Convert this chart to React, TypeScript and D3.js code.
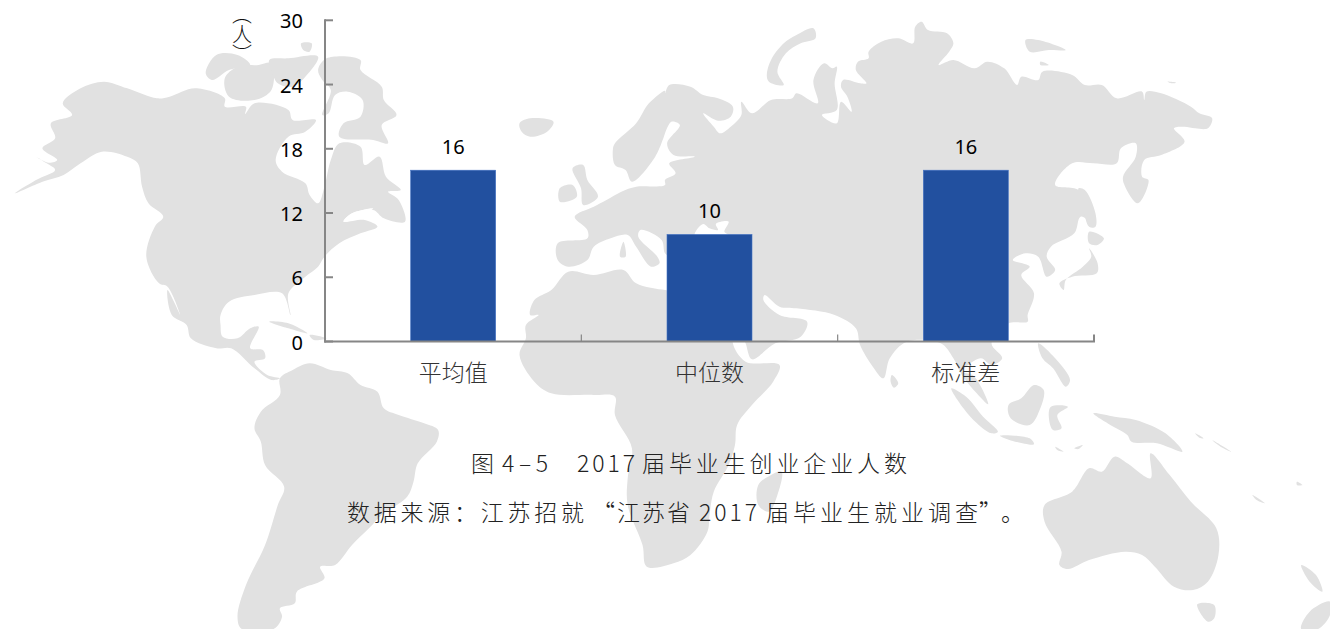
import React from "react";
import * as d3 from "d3";

const categories = ["平均值", "中位数", "标准差"];
const values = [16, 10, 16];
const yTicks = [0, 6, 12, 18, 24, 30];
const yTitle = "（人）";
// [text, first pixel, width] for each run of the two caption lines
const captionRuns: [string, number, number][] = [
  ["图", 471, 23],
  ["4–5", 502, 46],
  ["2017", 577, 58],
  ["届毕业生创业企业人数", 642, 265],
];
const sourceRuns: [string, number, number][] = [
  ["数据来源：江苏招就", 347, 237],
  ["“江苏省", 592, 98],
  ["2017", 699, 58],
  ["届毕业生就业调查", 766, 212],
  ["”", 979, 23],
  ["。", 1001, 23],
];

// Decorative world map outlines, traced in a 3136x1887 tracing space made of four quadrants.
type Seg = [number, number, string];
const NW = (s: string): Seg => [0, 0, s];
const NE = (s: string): Seg => [1568, 0, s];
const SW = (s: string): Seg => [0, 945, s];
const SE = (s: string): Seg => [1568, 945, s];

const northAmerica: Seg[] = [
  NW("35,580 85,540 130,510 110,490 85,470 115,488 135,480 100,445 130,415 120,370 170,345 148,310 190,265 245,245 300,265 370,295 400,290 460,265 530,295 530,320 580,320 578,342 600,310 680,330 690,360 745,360 720,395 680,410 650,480 665,515 720,550 730,585 750,610 765,560 780,480 800,430 850,440 860,495 895,470 910,530 945,570 915,575 940,600 955,665 905,655 880,630 830,640 810,665 860,660 890,680 850,700 800,730 765,770 750,800 720,830 680,880 685,945 665,880 600,885 540,905 520,945"),
  SW("520,30 525,65 560,70 590,40 610,35 590,100 620,105 625,130 600,140 630,180 660,190 640,195 600,160 545,100 510,100 450,70 440,30 405,0"),
  NW("395,870 425,945 395,860 375,850 345,770 365,680 385,650 350,610 335,560 325,490 300,470 240,455 190,490 150,525 100,545"),
];
const southAmerica: Seg[] = [SW("660,190 690,165 730,145 780,165 820,175 850,210 890,230 905,280 940,300 1000,325 1033,345 1030,380 985,445 975,500 960,545 900,600 870,640 830,690 790,750 755,755 765,790 700,830 695,865 660,880 665,905 645,942 570,942 560,905 580,810 625,690 655,570 670,515 625,450 615,380 600,340 615,290 660,240")];
const eurasiaAfrica: Seg[] = [
  NW("1315,780 1315,730 1385,715 1385,690 1355,650 1400,620 1430,600 1465,575 1500,560 1568,555"),
  NE("0,540 25,520 10,490 70,470 20,465 5,430 35,375 15,365 0,400"),
  NW("1568,400 1545,470 1490,545 1475,510 1450,495 1445,450 1450,430 1500,370 1530,310 1568,272"),
  NE("0,280 10,255 60,260 90,285 125,295 160,320 155,350 125,362 90,340 115,380 130,400 155,380 180,345 180,305 205,340 250,300 300,295 310,280 360,310 350,240 375,190 395,205 405,200 400,250 405,330 370,345 405,370 415,305 440,335 430,290 415,260 420,240 460,250 475,250 450,210 455,185 480,175 480,155 510,125 550,115 585,130 590,80 605,65 620,90 665,100 680,130 670,155 645,195 680,180 730,205 760,185 800,205 830,255 840,230 880,240 890,215 960,225 990,255 1030,255 1065,295 1125,275 1130,300 1135,275 1170,280 1240,320 1260,340 1290,355 1280,385 1250,385 1225,380 1200,385 1225,425 1170,465 1130,480 1125,530 1140,540 1115,610 1085,560 1080,530 1110,470 1110,430 1075,445 1065,490 1010,490 960,490 920,555 975,570 1005,640 1010,670 980,650 965,700 910,740 900,770 920,810 900,830 880,770 850,760 820,780 860,800 840,825 870,880 855,945"),
  SE("855,20 810,25 770,85 795,130 770,150 745,130 715,150 700,170 725,180 745,215 762,268 735,235 700,180 680,130 650,85 570,80 530,130 515,190 490,155 460,90 450,40 400,0"),
  NE("310,925 270,920 235,885 232,900 270,945"),
  SE("335,20 320,65 260,85 205,133 190,85 180,60 165,60 160,85 190,140 270,150 255,200 205,270 170,330 165,390 150,450 115,530 105,600 100,650 60,720 20,745"),
  SW("1525,755 1515,690 1480,570 1480,490 1490,400 1450,300 1450,245 1400,240 1300,235 1260,200 1225,120 1240,70 1240,30 1270,0"),
  NW("1250,945 1260,900 1300,870 1340,815 1400,825 1470,810 1500,850 1568,870"),
  NE("20,870 20,780"),
  NW("1568,760 1560,720 1510,690 1505,710 1550,770 1555,790 1535,800 1500,740 1480,705 1440,715 1400,740 1385,780 1340,800"),
];
const islands: Seg[][] = [
  [NW("485,220 510,165 560,165 590,195 540,210 500,240")],
  [NW("530,235 560,200 610,195 640,190 640,270 600,300 540,290")],
  [NW("635,180 680,175 750,170 720,230 690,260 655,250 640,210")],
  [NW("710,130 735,130 730,155 715,150")],
  [NW("750,210 770,175 850,180 850,210 900,260 905,300 935,345 900,375 915,430 880,420 800,410 810,370 850,350 855,300 820,275 790,285 775,340 760,345 780,270 760,240")],
  [NW("1225,370 1250,355 1305,365 1290,395 1250,410 1230,395")],
  [NW("1350,505 1375,495 1385,540 1410,590 1375,615 1370,565")],
  [NW("1320,565 1350,555 1360,590 1320,605")],
  [NW("1470,725 1475,770 1462,770")],
  [SW("635,20 680,25 725,55 680,40")],
  [SW("730,60 770,70 740,75")],
  [NE("240,225 250,180 280,130 310,105 350,85 355,115 320,130 285,160 265,215 280,255 245,245")],
  [NE("850,120 880,120 945,150 905,150 860,155")],
  [NE("885,185 905,195 885,195")],
  [NE("1185,245 1205,248 1195,250")],
  [NE("975,565 990,570 1015,640 1015,680 1000,680 985,620")],
  [NE("1000,695 1035,715 1020,735 1000,730")],
  [NE("1000,745 1020,790 1018,820 960,830 930,850 940,870 945,840 985,800 1005,770")],
  [SE("250,480 275,470 265,540 245,590 220,570 220,510")],
  [SE("535,180 550,205 540,218 532,200")],
  [SE("675,220 710,245 750,305 785,350 770,355 720,305")],
  [SE("790,362 860,370 870,388 820,378")],
  [SE("870,210 893,225 885,280 860,330 815,310 810,270 840,250")],
  [SE("910,275 950,275 925,300 935,340 915,345 905,305")],
  [SE("880,85 920,130 955,195 945,215 915,160 890,130")],
  [SE("1010,295 1060,305 1110,315 1180,355 1220,410 1160,385 1100,380 1090,360 1050,330")],
  [SE("895,570 960,530 1000,460 1030,470 1060,425 1090,445 1145,490 1145,415 1190,480 1240,560 1300,640 1305,720 1280,800 1245,825 1200,815 1155,755 1125,720 1085,710 1000,735 950,762 930,750 935,710 895,620")],
  [SE("1255,868 1295,870 1295,910 1280,920")],
  [SE("1500,750 1535,780 1550,830 1520,800")],
  [SE("1568,860 1520,890 1500,942 1540,942 1568,900")],
  [SE("1385,540 1415,565 1395,555")],
  [SE("1490,500 1503,510 1490,510")],
  [SE("1250,355 1270,370 1260,368")],
  [SE("1290,375 1335,410 1310,395")],
  [SE("920,395 940,410 925,405")],
  [SE("965,400 985,390 975,402")],
];
const waters: Seg[][] = [
  [NE("70,705 90,672 105,685 125,690 120,672 150,665 140,695 150,705")],
  [NW("810,665 830,640 880,625 850,650")],
];

const mx = d3.scaleLinear().domain([0, 3136]).range([0, 1330]);
const my = d3.scaleLinear().domain([0, 1887]).range([0, 629]);
const mapLine = d3
  .line<[number, number]>()
  .x((d) => mx(d[0]))
  .y((d) => my(d[1]))
  .curve(d3.curveCatmullRomClosed.alpha(0.5));
function ringPath(segs: Seg[]): string {
  const pts: [number, number][] = [];
  for (const [dx, dy, s] of segs) {
    for (const p of s.trim().split(/\s+/)) {
      const [a, b] = p.split(",").map(Number);
      pts.push([a + dx, b + dy]);
    }
  }
  return mapLine(pts) as string;
}

const WIDTH = 1330;
const HEIGHT = 629;
const x = d3.scaleBand<string>().domain(categories).range([325, 1094]).paddingInner(0).paddingOuter(0);
const y = d3.scaleLinear().domain([0, 30]).range([341.5, 20.3]);
const BAR_W = 85;
const CJK = "'Noto Sans CJK SC', 'Noto Sans', sans-serif";
const LATIN = "'Noto Sans', 'Open Sans', sans-serif";
const AXIS = "#868686";

export default function App() {
  const land = [northAmerica, southAmerica, eurasiaAfrica, ...islands];
  return (
    <svg width={WIDTH} height={HEIGHT} style={{ position: "absolute", left: 0, top: 0, background: "#fff" }}>
      <g fill="#e1e1e1">
        {land.map((r, i) => <path key={i} d={ringPath(r)} />)}
      </g>
      <g fill="#fff">
        {waters.map((r, i) => <path key={i} d={ringPath(r)} />)}
      </g>
      {categories.map((c, i) => {
        const cx = x(c)! + x.bandwidth() / 2;
        return (
          <g key={c}>
            <rect x={cx - BAR_W / 2} y={y(values[i])} width={BAR_W} height={y(0) - y(values[i])} fill="#22509f" stroke="#4472c4" strokeWidth={0.6} />
            <text x={cx} y={y(values[i]) - 16} textAnchor="middle" fontFamily={LATIN} fontSize={20} fill="#000">{values[i]}</text>
            <text x={cx} y={381} textAnchor="middle" fontFamily={CJK} fontSize={23} fontWeight={300} fill="#333">{c}</text>
          </g>
        );
      })}
      <g stroke={AXIS} strokeWidth={2} fill="none">
        <line x1={325} x2={325} y1={y(30) - 1} y2={y(0) + 1} />
        <line x1={324} x2={1095} y1={y(0)} y2={y(0)} />
        {yTicks.map((t) => <line key={t} x1={325} x2={333} y1={y(t)} y2={y(t)} />)}
        {d3.range(categories.length).map((i) => {
          const px = x(categories[i])! + x.bandwidth();
          return <line key={i} x1={px} x2={px} y1={y(0)} y2={y(0) - 7} strokeWidth={i === 2 ? 2 : 1.2} />;
        })}
      </g>
      {yTicks.map((t) => (
        <text key={t} x={303} y={y(t) + 8} textAnchor="end" fontFamily={LATIN} fontSize={20} fill="#000">{t}</text>
      ))}
      <text x={242} y={4} fontFamily={CJK} fontSize={20} fontWeight={300} fill="#111" style={{ writingMode: "vertical-rl" }}>{yTitle}</text>
      {captionRuns.map(([t, px, w]) => (
        <text key={t} x={px} y={472} fontFamily={CJK} fontSize={23} fontWeight={300} fill="#222" textLength={w} lengthAdjust="spacing">{t}</text>
      ))}
      {sourceRuns.map(([t, px, w]) => (
        <text key={t} x={px} y={521} fontFamily={CJK} fontSize={23} fontWeight={300} fill="#222" textLength={w} lengthAdjust="spacing">{t}</text>
      ))}
    </svg>
  );
}
